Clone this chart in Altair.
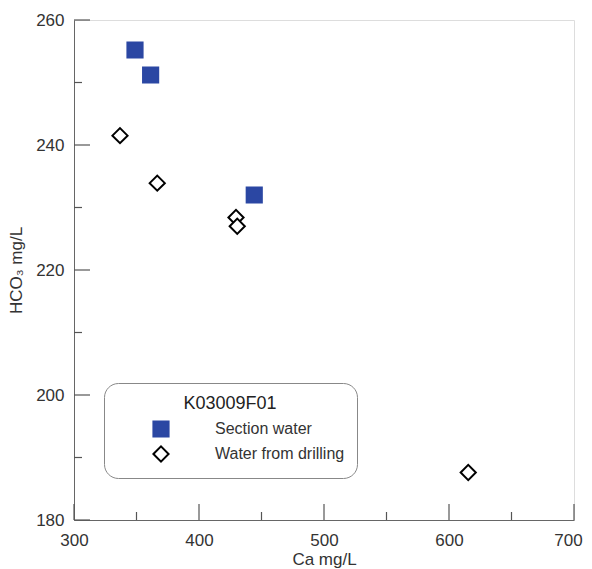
import altair as alt
import pandas as pd

# Data
section_ca = [348.8, 361.3, 444.2]
section_hco3 = [255.2, 251.2, 232.0]
drilling_ca = [336.8, 366.6, 429.6, 430.6, 615.4]
drilling_hco3 = [241.5, 233.9, 228.4, 227.0, 187.6]

series_names = ["Section water", "Water from drilling"]
x_major = [300, 400, 500, 600, 700]
x_minor = [350, 450, 550, 650]
y_major = [180, 200, 220, 240, 260]
y_minor = [190, 210, 230, 250]

pts = pd.DataFrame({
    "ca": section_ca + drilling_ca,
    "hco3": section_hco3 + drilling_hco3,
    "series": [series_names[0]] * len(section_ca) + [series_names[1]] * len(drilling_ca),
})

FONT = "Liberation Sans"
TICK = "#555555"


def x_enc():
    return alt.X("ca:Q", scale=alt.Scale(domain=[300, 700], nice=False, zero=False), title="Ca mg/L",
                 axis=alt.Axis(values=x_major, ticks=False, grid=False, domainColor="#666666",
                               labelFontSize=17, labelColor="#333333", labelPadding=12,
                               labelFlush=False, labelOverlap=False,
                               labelOffset={"condition": {"test": "datum.value == 700", "value": -6}, "value": 0},
                               titleFontSize=17, titleFontWeight="normal", titleColor="#333333",
                               titlePadding=3, labelFont=FONT, titleFont=FONT))


def y_enc():
    return alt.Y("hco3:Q", scale=alt.Scale(domain=[180, 260], nice=False, zero=False), title="HCO₃ mg/L",
                 axis=alt.Axis(values=y_major, ticks=False, grid=False, domainColor="#666666",
                               labelFontSize=17, labelColor="#333333", labelPadding=10,
                               labelFlush=False, labelOverlap=False,
                               titleFontSize=17, titleFontWeight="normal", titleColor="#333333",
                               titlePadding=10, labelFont=FONT, titleFont=FONT))


points = alt.Chart(pts).mark_point(filled=False, opacity=1, strokeWidth=2).encode(
    x=x_enc(),
    y=y_enc(),
    shape=alt.Shape("series:N", scale=alt.Scale(domain=series_names, range=["square", "diamond"]),
                    legend=alt.Legend(orient="none", legendX=30, legendY=363, title="K03009F01",
                                      titleAnchor="middle", strokeColor="#888888", cornerRadius=14,
                                      padding=12, symbolOffset=36, labelOffset=45, rowPadding=1,
                                      titleFontSize=18, labelFontSize=16, fillColor="white",
                                      titlePadding=7, titleFontWeight="normal", titleColor="#222222",
                                      labelColor="#333333", symbolSize=230, symbolStrokeWidth=2,
                                      labelFont=FONT, titleFont=FONT)),
    fill=alt.Fill("series:N", scale=alt.Scale(domain=series_names, range=["#2B47A3", "white"])),
    stroke=alt.Stroke("series:N", scale=alt.Scale(domain=series_names, range=["#2B47A3", "black"])),
    size=alt.value(230),
)


def xticks(vals, length):
    df = pd.DataFrame({"ca": vals})
    return alt.Chart(df).mark_rule(color=TICK, strokeWidth=1.2).encode(
        x=x_enc(), y=alt.value(500), y2=alt.value(500 - length))


def yticks(vals, length):
    df = pd.DataFrame({"hco3": vals})
    return alt.Chart(df).mark_rule(color=TICK, strokeWidth=1.2).encode(
        y=y_enc(), x=alt.value(0), x2=alt.value(length))


chart = alt.layer(
    xticks(x_major, 16), xticks(x_minor, 8), yticks(y_major, 16), yticks(y_minor, 8), points
).properties(
    width=500, height=500,
    padding={"left": 66, "top": 12, "right": 10, "bottom": 49},
    autosize=alt.AutoSizeParams(type="none"),
).configure_view(stroke="#aaaaaa", strokeWidth=1.5).configure(font=FONT)

chart.save("out.html", embed_options={"renderer": "svg", "actions": False})
